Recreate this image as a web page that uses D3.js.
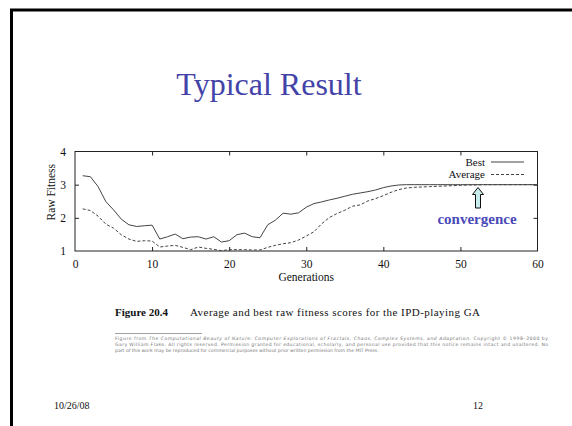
<!DOCTYPE html>
<html><head><meta charset="utf-8">
<script src="https://cdn.jsdelivr.net/npm/d3@7"></script>
<style>
html,body{margin:0;padding:0;background:#fff;}
svg{display:block;}
</style></head>
<body>
<script>
const generations = d3.range(1, 61);
const best = [3.27,3.24,2.94,2.49,2.24,1.96,1.79,1.74,1.76,1.78,
              1.36,1.43,1.51,1.37,1.42,1.43,1.36,1.43,1.27,1.31,
              1.49,1.54,1.43,1.40,1.79,1.93,2.14,2.11,2.15,2.32,
              2.43,2.48,2.54,2.59,2.65,2.71,2.75,2.79,2.84,2.91,
              2.96,2.99,3.0,3.0,3.0,3.0,3.0,3.0,3.0,3.0,
              3.0,3.0,3.0,3.0,3.0,3.0,3.0,3.0,3.0,3.0];
const average = [2.27,2.22,2.05,1.81,1.69,1.49,1.36,1.29,1.31,1.30,
                 1.12,1.15,1.17,1.11,1.04,1.12,1.08,1.05,1.01,1.04,
                 1.04,1.04,1.03,1.03,1.11,1.17,1.22,1.25,1.33,1.45,
                 1.58,1.82,2.01,2.13,2.23,2.35,2.39,2.51,2.58,2.67,
                 2.77,2.85,2.90,2.92,2.93,2.94,2.95,2.96,2.97,2.98,
                 2.99,2.99,3.0,3.0,3.0,3.0,3.0,3.0,3.0,3.0];
const xTicks = [0,10,20,30,40,50,60];
const yTicks = [1,2,3,4];
const legendLabels = ["Best","Average"];
const footnote = [
  ["Figure from ", "The Computational Beauty of Nature: Computer Explorations of Fractals, Chaos, Complex Systems, and Adaptation.", " Copyright \u00A9 1998\u20132000 by"],
  ["Gary William Flake. All rights reserved. Permission granted for educational, scholarly, and personal use provided that this notice remains intact and unaltered. No"],
  ["part of this work may be reproduced for commercial purposes without prior written permission from the MIT Press."]
];

const W = 572, H = 426;
const SERIF = "Liberation Serif, Times New Roman, serif";
const svg = d3.select("body").append("svg").attr("width", W).attr("height", H);

// slide frame
svg.append("rect").attr("x", 11.5).attr("y", 10).attr("width", W).attr("height", H)
  .attr("fill", "none").attr("stroke", "#000").attr("stroke-width", 3);

// title
svg.append("text").attr("x", 269).attr("y", 95).attr("text-anchor", "middle")
  .attr("font-family", SERIF).attr("font-size", 32)
  .attr("fill", "#4343a8").text("Typical Result");

const x = d3.scaleLinear().domain([0, 60]).range([75, 537.5]);
const y = d3.scaleLinear().domain([1, 4]).range([251, 151.5]);

const g = svg.append("g").attr("font-family", SERIF);

const axStyle = sel => {
  sel.select(".domain").remove();
  sel.selectAll("line").attr("stroke", "#222");
  sel.selectAll("text").attr("font-family", SERIF)
     .attr("font-size", 11.5).attr("fill", "#111");
};
const fmt = d3.format("d");
g.append("g").attr("transform", `translate(0,${y(1)})`)
  .call(d3.axisBottom(x).tickValues(xTicks.slice(1, -1)).tickSizeInner(-4).tickSizeOuter(0).tickFormat(""))
  .call(axStyle);
g.append("g").attr("transform", `translate(0,${y(1)})`)
  .call(d3.axisBottom(x).tickValues(xTicks).tickSize(0).tickPadding(8.5).tickFormat(fmt))
  .call(axStyle);
g.append("g").attr("transform", `translate(0,${y(4)})`)
  .call(d3.axisTop(x).tickValues(xTicks.slice(1, -1)).tickSizeInner(-4).tickSizeOuter(0).tickFormat(""))
  .call(axStyle);
g.append("g").attr("transform", `translate(${x(0)},0)`)
  .call(d3.axisLeft(y).tickValues(yTicks.slice(1, -1)).tickSizeInner(-4).tickSizeOuter(0).tickFormat(""))
  .call(axStyle);
g.append("g").attr("transform", `translate(${x(0)},0)`)
  .call(d3.axisLeft(y).tickValues(yTicks).tickSize(0).tickPadding(9).tickFormat(fmt))
  .call(axStyle);
g.append("g").attr("transform", `translate(${x(60)},0)`)
  .call(d3.axisRight(y).tickValues(yTicks.slice(1, -1)).tickSizeInner(-4).tickSizeOuter(0).tickFormat(""))
  .call(axStyle);

g.append("rect").attr("x", x(0)).attr("y", y(4)).attr("width", x(60) - x(0)).attr("height", y(1) - y(4))
  .attr("fill", "none").attr("stroke", "#222").attr("stroke-width", 1);

// axis titles
g.append("text").attr("x", x(30)).attr("y", 280.5).attr("text-anchor", "middle")
  .attr("font-size", 11.5).attr("fill", "#111").text("Generations");
g.append("text").attr("transform", `translate(55,${y(2.5) - 9}) rotate(-90)`).attr("text-anchor", "middle")
  .attr("font-size", 11.5).attr("fill", "#111").text("Raw Fitness");

// lines
const line = d3.line().x((d, i) => x(generations[i])).y(d => y(d));
g.append("path").datum(best).attr("d", line).attr("fill", "none")
  .attr("stroke", "#444").attr("stroke-width", 1);
g.append("path").datum(average).attr("d", line).attr("fill", "none")
  .attr("stroke", "#444").attr("stroke-width", 1).attr("stroke-dasharray", "3,2");

// legend
legendLabels.forEach((lab, i) => {
  const ly = 162 + i * 12.5;
  g.append("text").attr("x", 485).attr("y", ly + 3.8).attr("text-anchor", "end")
    .attr("font-size", 11).attr("fill", "#111").text(lab);
  g.append("line").attr("x1", 491).attr("x2", 524).attr("y1", ly).attr("y2", ly)
    .attr("stroke", "#444").attr("stroke-width", 1)
    .attr("stroke-dasharray", i === 1 ? "3,2" : null);
});

// arrow annotation
const ax = 478, atop = 187.5, abot = 208;
const arrowPts = [[ax, atop], [ax + 5.5, atop + 7], [ax + 2.5, atop + 7], [ax + 2.5, abot],
                  [ax - 2.5, abot], [ax - 2.5, atop + 7], [ax - 5.5, atop + 7]];
svg.append("path").attr("d", d3.line()(arrowPts) + "Z").attr("fill", "#c8ecec")
  .attr("stroke", "#111").attr("stroke-width", 1);
svg.append("text").attr("x", 477).attr("y", 224).attr("text-anchor", "middle")
  .attr("font-family", SERIF).attr("font-weight", "bold")
  .attr("font-size", 15).attr("fill", "#4a4ab8").text("convergence");

// caption
svg.append("text").attr("x", 115).attr("y", 316).attr("font-family", SERIF)
  .attr("font-size", 11).attr("font-weight", "bold").attr("fill", "#111")
  .text("Figure 20.4");
svg.append("text").attr("x", 190).attr("y", 316).attr("font-family", SERIF)
  .attr("font-size", 11).attr("fill", "#111")
  .attr("textLength", 290).attr("lengthAdjust", "spacing")
  .text("Average and best raw fitness scores for the IPD-playing GA");

svg.append("line").attr("x1", 115).attr("x2", 202).attr("y1", 333.5).attr("y2", 333.5)
  .attr("stroke", "#888").attr("stroke-width", 0.8);

footnote.forEach((parts, i) => {
  const t = svg.append("text").attr("x", 115).attr("y", 340 + i * 5.8)
    .attr("font-family", "DejaVu Sans, sans-serif").attr("font-size", 4.6).attr("fill", "#777");
  if (i < 2) t.attr("textLength", 433).attr("lengthAdjust", "spacing");
  parts.forEach((p, j) => {
    const s = t.append("tspan").text(p);
    if (parts.length === 3 && j === 1) s.attr("font-style", "italic");
  });
});

// footer
svg.append("text").attr("x", 54).attr("y", 409).attr("font-family", SERIF)
  .attr("font-size", 10).attr("fill", "#111").text("10/26/08");
svg.append("text").attr("x", 473).attr("y", 409).attr("font-family", SERIF)
  .attr("font-size", 10).attr("fill", "#111").text("12");
</script>
</body></html>
